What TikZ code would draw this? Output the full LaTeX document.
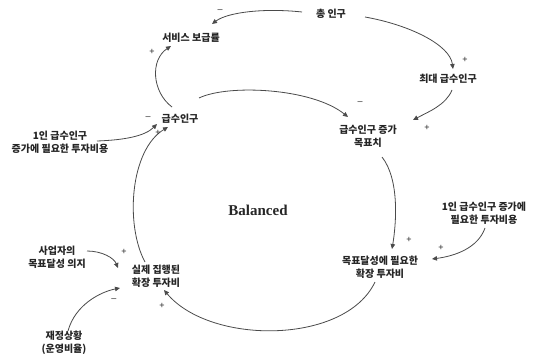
\documentclass[tikz,border=0pt]{standalone}
\usepackage{fontspec}
\setmainfont{Noto Sans CJK KR}
\newfontfamily\tnr{Liberation Serif}
\newfontfamily\lsans{Liberation Sans}
\usetikzlibrary{calc,arrows.meta}
\definecolor{txt}{HTML}{262626}
\definecolor{ln}{HTML}{4A4A4A}
\tikzset{
  var/.style={text=txt,font=\fontsize{10}{13}\selectfont\bfseries,align=center,inner sep=1pt},
  link/.style={draw=ln,line width=0.8pt,-{Triangle[width=4.5pt,length=5pt]}},
  pol/.style={text=txt,font=\lsans\fontsize{9}{10}\selectfont,inner sep=0pt}
}
\begin{document}
\begin{tikzpicture}[x=1pt,y=-1pt]
\useasboundingbox[fill=white] (0,0) rectangle (534,353);
% nodes
\node[var] (pop) at (331,14) {총 인구};
\node[var] (svc) at (191,38) {서비스 보급률};
\node[var] (maxp) at (448,79) {최대 급수인구};
\node[var] (served) at (180,119) {급수인구};
\node[var] (goal) at (368,136) {급수인구 증가\\목표치};
\node[var] (costL) at (60,142) {1인 급수인구\\증가에 필요한 투자비용};
\node[text=txt,font=\tnr\bfseries\fontsize{15}{18}\selectfont] (bal) at (258,210) {Balanced};
\node[var] (costR) at (484,213) {1인 급수인구 증가에\\필요한 투자비용};
\node[var] (need) at (380,267) {목표달성에 필요한\\확장 투자비};
\node[var] (will) at (57,257) {사업자의\\목표달성 의지};
\node[var] (actual) at (156,276) {실제 집행된\\확장 투자비};
\node[var] (fin) at (64,343) {재정상황\\(운영비율)};
% connectors
\draw[link] ($(pop)+(-29,-2)$) .. controls (265,8) and (228,12) .. ($(svc)+(21,-14)$);
\draw[link] ($(pop)+(34,3)$) .. controls (410,25) and (450,45) .. ($(maxp)+(5,-10)$);
\draw[link] ($(served)+(-8,-12)$) .. controls (152,92) and (150,60) .. ($(svc)+(-20,8)$);
\draw[link] ($(served)+(19,-21)$) .. controls (228,84) and (312,88) .. ($(goal)+(-20,-19)$);
\draw[link] ($(maxp)+(4,11)$) .. controls (446,105) and (428,112) .. ($(goal)+(45,-16)$);
\draw[link] ($(costL)+(37,-1)$) .. controls (125,140) and (145,136) .. ($(served)+(-23,5)$);
\draw[link] ($(actual)+(-11,-14)$) .. controls (125,225) and (130,150) .. ($(served)+(-12,8)$);
\draw[link] ($(goal)+(14,21)$) .. controls (400,180) and (396,225) .. ($(need)+(12,-18)$);
\draw[link] ($(costR)+(1,15)$) .. controls (478,248) and (455,256) .. ($(need)+(52,-8)$);
\draw[link] ($(need)+(-5,15)$) .. controls (345,345) and (210,345) .. ($(actual)+(8,14)$);
\draw[link] ($(will)+(30,-6)$) .. controls (102,251) and (114,258) .. ($(actual)+(-38,-8)$);
\draw[link] ($(fin)+(4,-12)$) .. controls (75,305) and (100,292) .. ($(actual)+(-36,12)$);
% polarities
\node[pol] (p1) at (220,11) {–};
\node[pol] (p2) at (465,60) {+};
\node[pol] (p3) at (152,52) {+};
\node[pol] (p4) at (360,103) {–};
\node[pol] (p5) at (427,128) {+};
\node[pol] (p6) at (148,118) {–};
\node[pol] (p7) at (158,133) {+};
\node[pol] (p8) at (409,240) {+};
\node[pol] (p9) at (441,248) {+};
\node[pol] (p10) at (162,306) {+};
\node[pol] (p11) at (124,252) {+};
\node[pol] (p12) at (114,300) {–};
\end{tikzpicture}
\end{document}
